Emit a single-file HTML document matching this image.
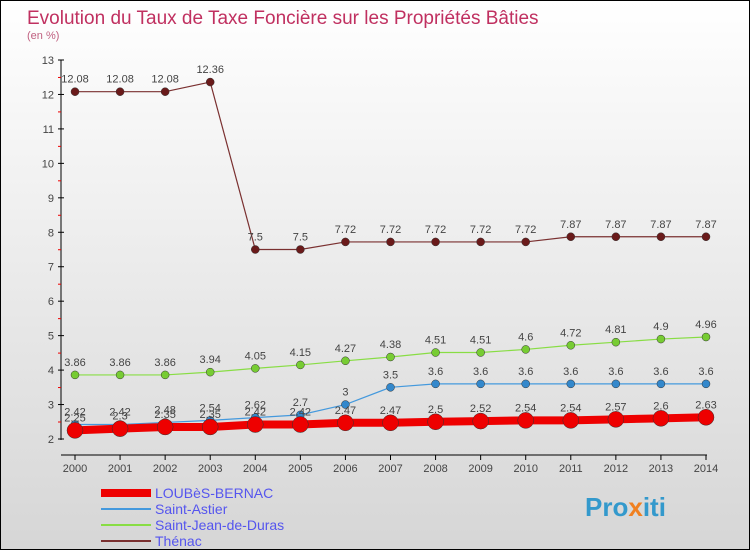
<!DOCTYPE html>
<html><head><meta charset="utf-8"><style>
body{margin:0;width:750px;height:550px;overflow:hidden;font-family:"Liberation Sans",sans-serif}
#wrap{position:relative;width:748px;height:548px;border:1px solid #000;background:linear-gradient(#fff,#d6d6d6)}
</style></head><body>
<div id="wrap">
<svg id="chart" width="748" height="548">
<text x="26" y="23" font-size="19" fill="#c03060">Evolution du Taux de Taxe Foncière sur les Propriétés Bâties</text>
<text x="26" y="38" font-size="11" fill="#c06080">(en %)</text>
<g id="axes"></g><g id="series"></g><g id="legend"></g>
<text x="584" y="515" font-size="26" font-weight="bold" fill="#3399cc">Pro<tspan fill="#f08020">x</tspan>iti</text>
</svg></div>
<script>
const years=[2000,2001,2002,2003,2004,2005,2006,2007,2008,2009,2010,2011,2012,2013,2014];
const yTicks=[2,3,4,5,6,7,8,9,10,11,12,13];
const loubes=[2.25,2.3,2.35,2.35,2.42,2.42,2.47,2.47,2.5,2.52,2.54,2.54,2.57,2.6,2.63];
const astier=[2.42,2.42,2.48,2.54,2.62,2.7,3,3.5,3.6,3.6,3.6,3.6,3.6,3.6,3.6];
const duras=[3.86,3.86,3.86,3.94,4.05,4.15,4.27,4.38,4.51,4.51,4.6,4.72,4.81,4.9,4.96];
const thenac=[12.08,12.08,12.08,12.36,7.5,7.5,7.72,7.72,7.72,7.72,7.72,7.87,7.87,7.87,7.87];
const NS="http://www.w3.org/2000/svg";
const xS=i=>74+i*(631/14), yS=v=>438-(v-2)*(379/11);
function mk(t,a,p){const e=document.createElementNS(NS,t);for(const k in a)e.setAttribute(k,a[k]);p.appendChild(e);return e;}
const ax=document.getElementById('axes');
let e=mk('line',{x1:60,y1:59,x2:60,y2:439,stroke:'#000'},ax);

e=mk('line',{x1:60,y1:454,x2:706,y2:454,stroke:'#000'},ax);

yTicks.forEach(v=>{const y=yS(v);
 mk('line',{x1:57,y1:y,x2:63,y2:y,stroke:'#000'},ax);
 if(v<13)mk('line',{x1:57,y1:y-17,x2:60,y2:y-17,stroke:'#e00'},ax);
 const t=mk('text',{x:53,y:y+4,'font-size':11,fill:'#444','text-anchor':'end'},ax);t.textContent=v;
 });
years.forEach((yr,i)=>{const x=xS(i);
 mk('line',{x1:x,y1:454,x2:x,y2:459,stroke:'#000'},ax);
 const t=mk('text',{x:x,y:471,'font-size':11,fill:'#444','text-anchor':'middle'},ax);t.textContent=yr;
 });
const sg=document.getElementById('series');
function draw(vals,col,dot,w,r,name,lab){
 const g=mk('g',{},sg);
 const pl=mk('polyline',{points:vals.map((v,i)=>xS(i)+','+yS(v)).join(' '),fill:'none',stroke:col,'stroke-width':w},g);
 
 vals.forEach((v,i)=>{const c=mk('circle',{cx:xS(i),cy:yS(v),r:r,fill:dot,stroke:'#333','stroke-width':0.5},g);
  
  const t=mk('text',{x:xS(i),y:yS(v)-9,'font-size':11,fill:'#444','text-anchor':'middle'},g);t.textContent=v;
  });
}
draw(thenac,'#7a3030','#6a1a1a',1.2,4,'thenac');
draw(duras,'#88dd44','#77cc33',1.2,4,'saint-jean-de-duras');
draw(astier,'#4499dd','#3388cc',1.2,4,'saint-astier');
draw(loubes,'#ee0000','#ee0000',8,8,'loubes-bernac');
const lg=document.getElementById('legend');
const items=[['LOUBèS-BERNAC','#ee0000',8],['Saint-Astier','#4499dd',2],['Saint-Jean-de-Duras','#88dd44',2],['Thénac','#7a3030',2]];
items.forEach((it,i)=>{const y=492+i*16;
 const l=mk('line',{x1:100,y1:y,x2:150,y2:y,stroke:it[1],'stroke-width':it[2]},lg);
 
 const t=mk('text',{x:154,y:y+5,'font-size':14,fill:'#5555ee'},lg);t.textContent=it[0];
 });
</script></body></html>
